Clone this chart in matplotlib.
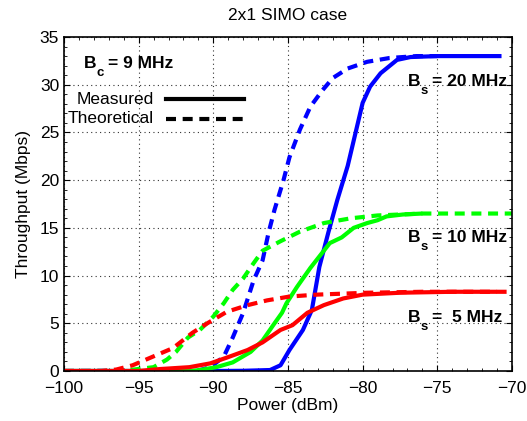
import matplotlib
matplotlib.use("Agg")
import matplotlib.pyplot as plt
from matplotlib.ticker import MultipleLocator

plt.rcParams['font.family'] = ['Liberation Sans', 'DejaVu Sans']

# Power sweep (dBm) and throughput (Mbps) per signal bandwidth
p_meas_20 = [-100, -90, -88, -86.2, -85.5, -84.9, -84.0, -83.4, -82.9, -82.3, -81.7,
             -81.0, -80.5, -80.0, -79.5, -78.8, -77.7, -76.8, -75.0, -70.7]
t_meas_20 = [0, 0, 0.02, 0.1, 0.6, 2.2, 4.3, 6.4, 10.9, 14.5, 17.9,
             21.5, 24.8, 28.1, 29.8, 31.2, 32.6, 32.9, 33.0, 33.0]

p_theo_20 = [-100, -91.0, -90.2, -89.3, -88.7, -88.0, -87.3, -86.7, -86.3, -85.9,
             -85.3, -84.9, -84.2, -83.5, -82.7, -82.0, -81.0, -79.7, -78.2, -76.4, -75.0]
t_theo_20 = [0, 0.05, 0.4, 1.5, 3.5, 6.1, 9.5, 11.6, 14.5, 16.9,
             20.0, 22.4, 25.3, 27.7, 29.4, 30.7, 31.7, 32.4, 32.8, 33.0, 33.0]

p_meas_10 = [-100, -91.5, -90.9, -89.8, -88.7, -87.5, -86.7, -85.9, -85.4, -85.1,
             -84.4, -83.5, -82.9, -82.2, -81.4, -80.6, -79.7, -79.0, -78.4, -77.3, -76.0]
t_meas_10 = [0, 0, 0.1, 0.4, 0.9, 2.0, 3.2, 5.0, 6.1, 7.1,
             8.8, 10.8, 12.0, 13.4, 14.0, 15.0, 15.5, 15.8, 16.2, 16.4, 16.5]

p_theo_10 = [-100, -96.5, -95.6, -94.0, -93.1, -92.5, -91.7, -90.9, -90.0, -89.3,
             -88.7, -88.0, -87.3, -86.7, -85.5, -84.2, -82.6, -80.8, -79.0, -76.0, -70.0]
t_theo_10 = [0, 0, 0.1, 0.4, 1.2, 2.0, 3.5, 4.3, 5.7, 7.1,
             8.5, 9.7, 11.3, 12.6, 13.6, 14.6, 15.5, 16.0, 16.3, 16.5, 16.5]

p_meas_5 = [-100, -95.0, -93.6, -91.6, -90.2, -89.1, -87.7, -86.7, -85.5, -84.7,
            -83.7, -82.6, -81.3, -80.0, -77.5, -74.0, -71.0]
t_meas_5 = [0, 0, 0.2, 0.4, 0.8, 1.4, 2.2, 3.0, 4.3, 4.8,
            6.1, 6.9, 7.6, 8.0, 8.2, 8.3, 8.3]

p_theo_5 = [-100, -97.5, -96.5, -95.4, -94.2, -92.7, -91.4, -90.4, -89.1, -87.7,
            -86.4, -84.9, -83.1, -79.7, -76.0, -70.0]
t_theo_5 = [0, 0, 0.15, 0.6, 1.4, 2.4, 4.0, 5.0, 6.2, 6.9,
            7.4, 7.8, 8.0, 8.2, 8.3, 8.3]

fig = plt.figure(figsize=(5.27, 4.21), dpi=100)
ax = fig.add_axes([0.1214, 0.1188, 0.8501, 0.7933])

lw = 3
dash = (2.4, 1.6)
ax.plot(p_meas_20, t_meas_20, color=(0, 0, 1), lw=lw, solid_capstyle='butt')
ax.plot(p_theo_20, t_theo_20, color=(0, 0, 1), lw=lw, dashes=dash)
ax.plot(p_meas_10, t_meas_10, color=(0, 1, 0), lw=lw, solid_capstyle='butt')
ax.plot(p_theo_10, t_theo_10, color=(0, 1, 0), lw=lw, dashes=dash)
ax.plot(p_meas_5, t_meas_5, color=(1, 0, 0), lw=lw, solid_capstyle='butt')
ax.plot(p_theo_5, t_theo_5, color=(1, 0, 0), lw=lw, dashes=dash)

ax.set_xlim(-100, -70)
ax.set_ylim(0, 35)
ax.xaxis.set_major_locator(MultipleLocator(5))
ax.xaxis.set_minor_locator(MultipleLocator(1))
ax.yaxis.set_major_locator(MultipleLocator(5))
ax.yaxis.set_minor_locator(MultipleLocator(1))
ax.tick_params(which='both', direction='in', top=True, right=True, labelsize=12.5)
ax.tick_params(which='major', length=4)
ax.tick_params(which='minor', length=2)
ax.tick_params(axis='x', which='major', pad=7)
ax.grid(True, which='major', linestyle=(0, (1, 3)), color='#333333', linewidth=0.8)
for s in ax.spines.values():
    s.set_linewidth(1.2)

ax.set_title("2x1 SIMO case", fontsize=12.5, pad=12)
ax.set_xlabel("Power (dBm)", fontsize=12.5, labelpad=2)
ax.set_ylabel("Throughput (Mbps)", fontsize=12.5, labelpad=6)


def band_label(x, y, sub, rest):
    """Bold 'B' with a dropped subscript, followed by the value text."""
    kw = dict(fontweight='bold', ha='left', va='baseline',
              xycoords='data', textcoords='offset points')
    ax.annotate("B", (x, y), xytext=(0, 0), fontsize=12.5, **kw)
    ax.annotate(sub, (x, y), xytext=(9.6, -6.0), fontsize=9.5, **kw)
    ax.annotate(rest, (x, y), xytext=(17.6, 0), fontsize=12.5, **kw)


band_label(-98.7, 31.75, "c", "= 9 MHz")
band_label(-77.0, 29.9, "s", "= 20 MHz")
band_label(-77.0, 13.5, "s", "= 10 MHz")
band_label(-77.0, 5.13, "s", "=  5 MHz")

# legend drawn as text plus sample strokes
ax.text(-93.97, 28.5, "Measured", fontsize=12.5, ha='right', va='center')
ax.text(-93.97, 26.45, "Theoretical", fontsize=12.5, ha='right', va='center')
ax.plot([-93.17, -87.94], [28.5, 28.5], color='black', lw=lw)
ax.plot([-93.17, -87.94], [26.45, 26.45], color='black', lw=lw, dashes=dash)

fig.savefig("out.png", dpi=100)
